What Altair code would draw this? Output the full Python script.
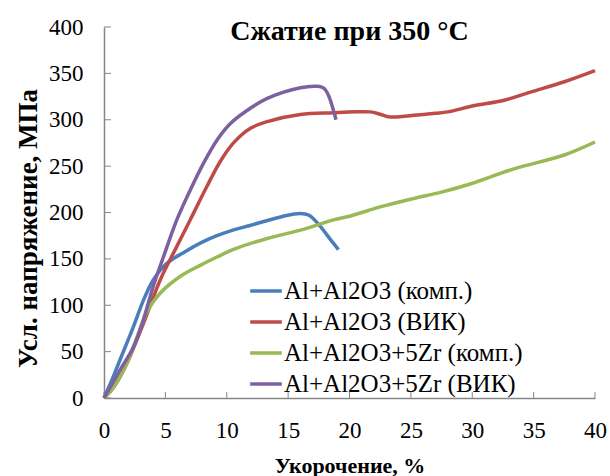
import altair as alt
import pandas as pd

names = ["Al+Al2O3  (комп.)", "Al+Al2O3  (ВИК)", "Al+Al2O3+5Zr  (комп.)", "Al+Al2O3+5Zr  (ВИК)"]
colors = ["#4A7EBB", "#BE4B48", "#98B954", "#7D60A0"]

blue_x = [0, 0.6, 1.3, 2.4, 3.2, 4.0, 5.1, 6.5, 8.0, 9.2, 10.5, 11.9, 14.6, 16.0, 16.7, 17.5, 18.5, 19.1]
blue_y = [0, 18, 41, 77, 105, 127, 145, 157, 168, 175, 181, 186, 196, 199, 197, 187, 170, 160]

red_x = [0, 0.8, 1.85, 3.2, 4.57, 5.8, 7.02, 8.38, 9.47, 10.55, 11.9, 13.3, 16.0, 18.7, 20.5, 21.7,
         22.5, 23.3, 25.5, 27.0, 28.0, 30.1, 32.6, 34.8, 37.5, 40.0]
red_y = [0, 12, 37, 80, 127, 160, 192, 228, 255, 275, 290.6, 298, 305.6, 307.5, 308.5, 308.5,
         306, 303, 305, 307, 308.5, 315, 321, 330, 341, 353]

green_x = [0, 0.8, 1.85, 3.2, 3.5, 4.57, 6.2, 7.84, 9.2, 10.5, 13.3, 16.0, 18.7, 20.0, 22.5, 25.2,
           27.5, 29.9, 33.4, 37.5, 40.0]
green_y = [0, 12, 37, 84, 93, 113, 131, 143, 152, 160, 172, 181, 192, 196, 206, 215,
           222, 231, 247, 262, 276]

purple_x = [0, 1.3, 2.4, 3.2, 4.0, 4.84, 5.93, 7.02, 8.1, 9.2, 10.3, 11.65, 13.3, 16.0, 17.4, 17.9,
            18.3, 18.9]
purple_y = [0, 30, 55, 84, 120, 152, 192, 224, 253, 278, 296, 310, 323, 334.5, 336, 334,
            326, 300]

x_ticks = [0, 5, 10, 15, 20, 25, 30, 35, 40]
y_ticks = [0, 50, 100, 150, 200, 250, 300, 350, 400]

rows = []
for name, xs, ys in zip(names, [blue_x, red_x, green_x, purple_x], [blue_y, red_y, green_y, purple_y]):
    for i, (xv, yv) in enumerate(zip(xs, ys)):
        rows.append({"series": name, "x": xv, "y": yv, "order": i})
df = pd.DataFrame(rows)

W, H = 491, 371
FONT = "Liberation Serif"

xscale = alt.Scale(domain=[0, 40], nice=False, zero=False)
yscale = alt.Scale(domain=[0, 400], nice=False)

lines = alt.Chart(df).mark_line(strokeWidth=3.5, interpolate="catmull-rom").encode(
    x=alt.X("x:Q", scale=xscale,
            axis=alt.Axis(values=x_ticks, title="Укорочение, %", labelPadding=21, labelFlush=False,
                          titleX=W / 2, titleY=67, titleBaseline="middle", titleAlign="center")),
    y=alt.Y("y:Q", scale=yscale,
            axis=alt.Axis(values=y_ticks, title="Усл. напряжение, МПа", labelPadding=21,
                          titleX=-76, titleY=201, titleAngle=270, titleAlign="center",
                          titleBaseline="middle", titleFontSize=27)),
    color=alt.Color("series:N", scale=alt.Scale(domain=names, range=colors),
                    legend=alt.Legend(title=None, orient="none", legendX=144, legendY=246,
                                      symbolType="stroke", symbolStrokeWidth=3.5, symbolSize=1000,
                                      labelFont=FONT, labelFontSize=25, labelColor="black",
                                      rowPadding=0, labelOffset=0, labelLimit=400)),
    detail="series:N",
    order="order:Q",
)

ytick_df = pd.DataFrame({"t": y_ticks})
xtick_df = pd.DataFrame({"t": x_ticks})
yticks = alt.Chart(ytick_df).mark_rule(color="#868686", strokeWidth=1).encode(
    y=alt.Y("t:Q", scale=yscale), x=alt.value(0), x2=alt.value(7))
xticks = alt.Chart(xtick_df).mark_rule(color="#868686", strokeWidth=1).encode(
    x=alt.X("t:Q", scale=xscale), y=alt.value(H), y2=alt.value(H - 6))

chart = alt.layer(yticks, xticks, lines).properties(
    width=W, height=H,
    background="white",
    title=alt.TitleParams("Сжатие при 350 °C", font=FONT, fontSize=28, fontWeight="bold",
                          anchor="middle", baseline="middle", offset=-44, color="black"),
    padding={"left": 104, "top": 27, "right": 15, "bottom": 78},
    autosize=alt.AutoSizeParams(type="none"),
).configure_view(stroke=None).configure_axis(
    grid=False, ticks=False, domainColor="#868686", domainWidth=1.5,
    labelFont=FONT, labelFontSize=23, labelColor="black",
    titleFont=FONT, titleFontSize=22, titleFontWeight="bold", titleColor="black",
)

chart.save("out.html", embed_options={"renderer": "svg", "actions": False})
